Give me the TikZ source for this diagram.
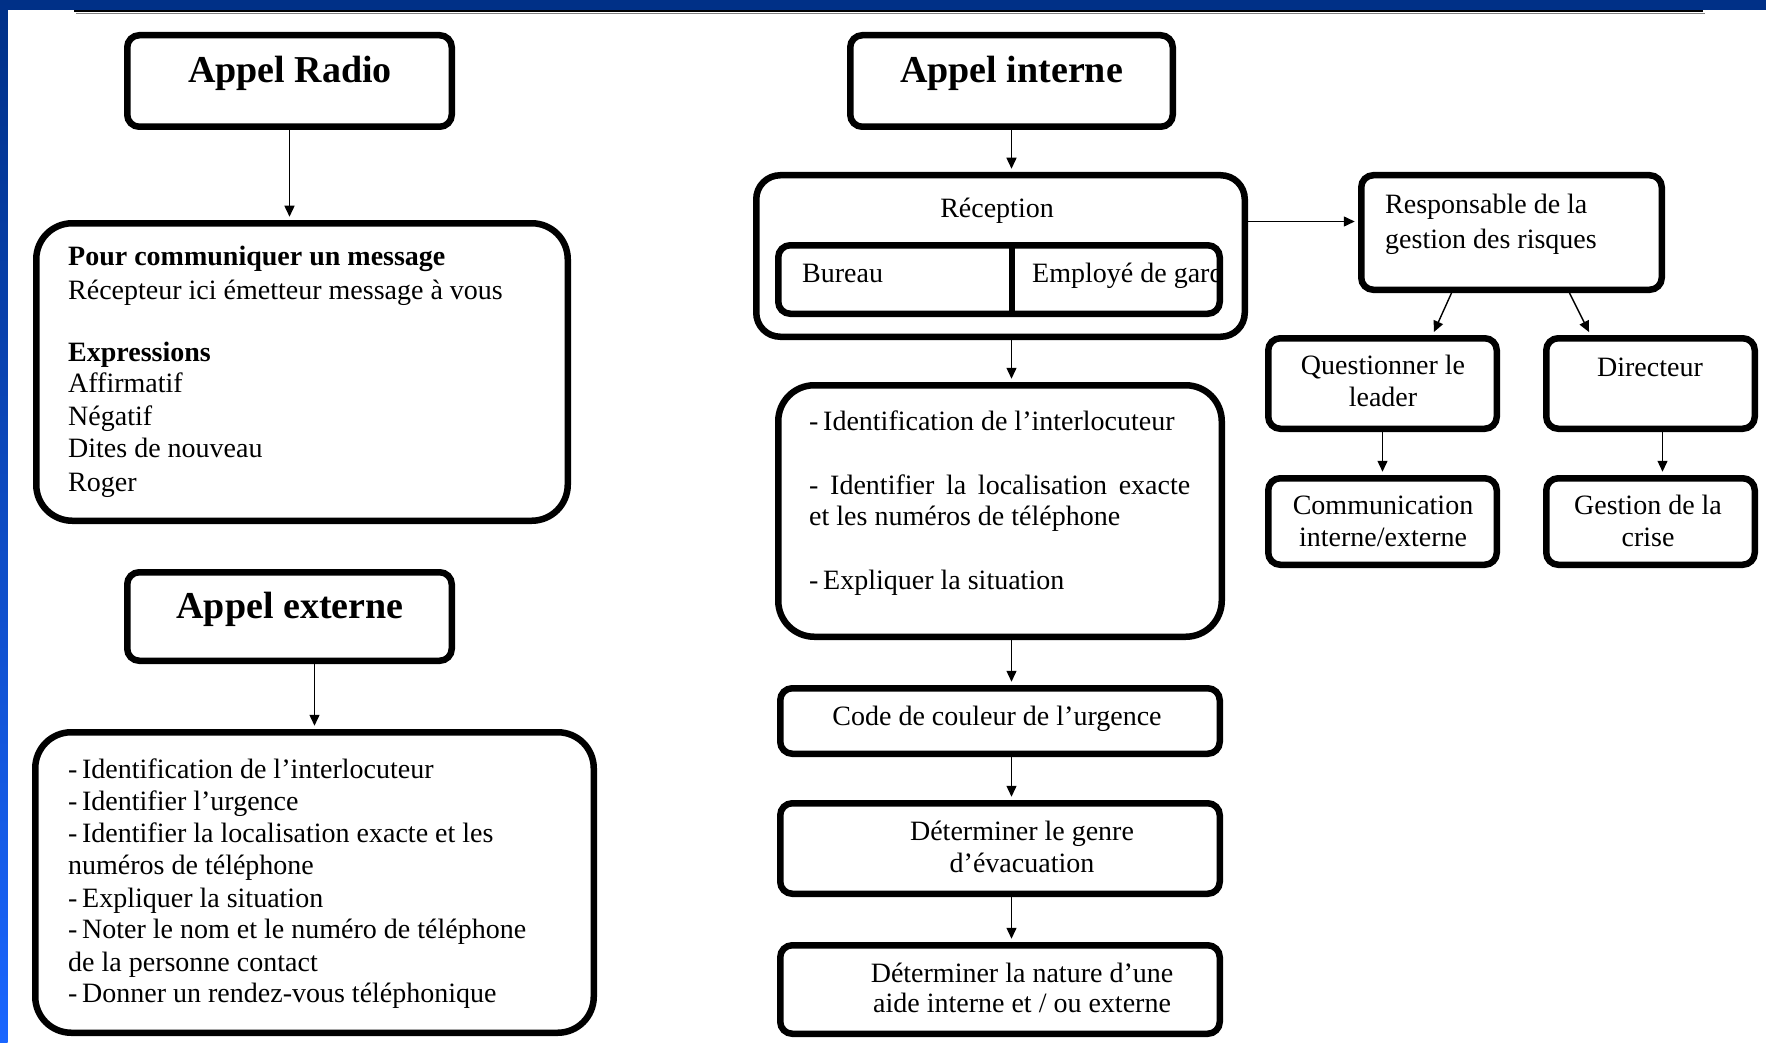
\documentclass[tikz,border=0pt]{standalone}
\usepackage{fontspec}
\setmainfont{Liberation Serif}
\usetikzlibrary{arrows.meta,calc}
\definecolor{barblue}{HTML}{003087}
\definecolor{stripblue}{HTML}{1A66FF}
\newcommand{\mkbox}[6]{%
  \pgfmathsetmacro\mkW{#4-#2-6.5}%
  \pgfmathsetmacro\mkH{#5-#3-6.5}%
  \node[#6, minimum width=\mkW pt, minimum height=\mkH pt] (#1) at ({(#2+#4)/2},{(#3+#5)/2}) {};}
\begin{document}
\begin{tikzpicture}[x=1pt,y=-1pt,
  box/.style={draw, line width=6.5pt, rounded corners=12pt, inner sep=0pt, fill=white},
  bigbox/.style={box, rounded corners=36pt},
  midbox/.style={box, rounded corners=24pt},
  tx/.style={font=\fontsize{28}{32}\selectfont, inner sep=0pt, anchor=base west},
  txc/.style={font=\fontsize{28}{32}\selectfont, inner sep=0pt, anchor=base},
  ttl/.style={font=\fontsize{38}{42}\selectfont\bfseries, inner sep=0pt, anchor=base},
  conn/.style={line width=1.4pt, shorten >=3.25pt, -{Triangle[length=11pt,width=10pt]}}]
\useasboundingbox (0,0) rectangle (1766,1043);
% background frame
\fill[barblue] (0,0) rectangle (1766,10.5);
\shade[top color=barblue, bottom color=stripblue] (0,0) rectangle (7.5,1043);
\draw[gray, line width=1pt] (76,13.5) -- (1705,13.5);
\draw[black, line width=2pt] (74,11.5) -- (1703,11.5);

% boxes
\mkbox{radio}{124}{32}{455}{130}{box}
\mkbox{radiotxt}{33}{220}{571}{524}{bigbox}
\mkbox{externe}{124}{569}{455}{664}{box}
\mkbox{exttxt}{32}{729}{597}{1036}{bigbox}
\mkbox{interne}{847}{32}{1176}{130}{box}
\mkbox{reception}{753}{172}{1248}{340}{midbox}
\mkbox{postes}{775}{242}{1223}{317}{box}
\mkbox{resp}{1358}{172}{1665}{293}{box}
\mkbox{quest}{1265}{335}{1500}{432}{box}
\mkbox{dir}{1543}{335}{1758}{432}{box}
\mkbox{comm}{1265}{475}{1500}{568}{box}
\mkbox{gest}{1543}{475}{1758}{568}{box}
\mkbox{ident}{775}{382}{1225}{640}{bigbox}
\mkbox{code}{777}{685}{1223}{757}{box}
\mkbox{genre}{777}{800}{1223}{897}{box}
\mkbox{nature}{777}{942}{1223}{1037}{box}

% divider in reception
\coordinate (div) at (1012,0);
\draw[line width=6.5pt] (postes.north -| div) -- (postes.south -| div);

% titles
\node[ttl] (tradio) at (290,83) {Appel Radio};
\node[ttl] (texterne) at (290,618) {Appel externe};
\node[ttl] (tinterne) at (1011.5,83) {Appel interne};

% radio text
\node[tx] (r1) at (68,265) {\bfseries Pour communiquer un message};
\node[tx] (r2) at (68,299) {Récepteur ici émetteur message à vous};
\node[tx] (r3) at (68,361) {\bfseries Expressions};
\node[tx] (r4) at (68,392) {Affirmatif};
\node[tx] (r5) at (68,425) {Négatif};
\node[tx] (r6) at (68,457.5) {Dites de nouveau};
\node[tx] (r7) at (68,491) {Roger};

% externe text
\node[tx] (e1) at (68,778.5) {-\,Identification de l’interlocuteur};
\node[tx] (e2) at (68,810) {-\,Identifier l’urgence};
\node[tx] (e3) at (68,842.5) {-\,Identifier la localisation exacte et les};
\node[tx] (e4) at (68,874) {numéros de téléphone};
\node[tx] (e5) at (68,907) {-\,Expliquer la situation};
\node[tx] (e6) at (68,938.5) {-\,Noter le nom et le numéro de téléphone};
\node[tx] (e7) at (68,971) {de la personne contact};
\node[tx] (e8) at (68,1002.6) {-\,Donner un rendez-vous téléphonique};

% reception text
\node[txc] (trec) at (997,218) {Réception};
\node[tx] (tbur) at (802,282) {Bureau};
\begin{scope}
  \clip (1015.25,245) rectangle (1219.75,313.75);
  \node[tx] (temp) at (1032,282) {Employé de garde};
\end{scope}

% right column text
\node[tx] (tr1) at (1385,213) {Responsable de la};
\node[tx] (tr2) at (1385,248) {gestion des risques};
\node[txc] (tq1) at (1383,374) {Questionner le};
\node[txc] (tq2) at (1383,406) {leader};
\node[txc] (td1) at (1650,376) {Directeur};
\node[txc] (tc1) at (1383,514) {Communication};
\node[txc] (tc2) at (1383,546) {interne/externe};
\node[txc] (tg1) at (1648,514) {Gestion de la};
\node[txc] (tg2) at (1648,546) {crise};

% interne column text
\node[tx] (i1) at (809,430) {-\,Identification de l’interlocuteur};
\node[tx] (i2) at (809,494) {\hbox to 381pt{- Identifier la localisation exacte}};
\node[tx] (i3) at (809,525) {et les numéros de téléphone};
\node[tx] (i4) at (809,589) {-\,Expliquer la situation};
\node[txc] (tcode) at (997,725) {Code de couleur de l’urgence};
\node[txc] (tgen1) at (1022,840) {Déterminer le genre};
\node[txc] (tgen2) at (1022,872) {d’évacuation};
\node[txc] (tnat1) at (1022,982) {Déterminer la nature d’une};
\node[txc] (tnat2) at (1022,1012) {aide interne et / ou externe};

% connectors
\draw[conn] (radio.south) -- (radio.south |- radiotxt.north);
\draw[conn] (exttxt.north |- externe.south) -- (exttxt.north);
\draw[conn] (interne.south) -- (interne.south |- reception.north);
\draw[conn] (reception.south -| interne.south) -- (ident.north -| interne.south);
\draw[conn] (ident.south -| interne.south) -- (code.north -| interne.south);
\draw[conn] (code.south -| interne.south) -- (genre.north -| interne.south);
\draw[conn] (genre.south -| interne.south) -- (nature.north -| interne.south);
\coordinate (rr) at ($(resp.west)+(0,-11)$);
\draw[conn] (reception.east |- rr) -- (rr);
\draw[conn] ($(resp.south)+(-60,0)$) -- ($(quest.north)+(50,0)$);
\draw[conn] ($(resp.south)+(58,0)$) -- ($(dir.north)+(-60,0)$);
\draw[conn] (quest.south) -- (comm.north);
\draw[conn] ($(dir.south)+(12,0)$) -- ($(gest.north)+(12,0)$);
\end{tikzpicture}
\end{document}
